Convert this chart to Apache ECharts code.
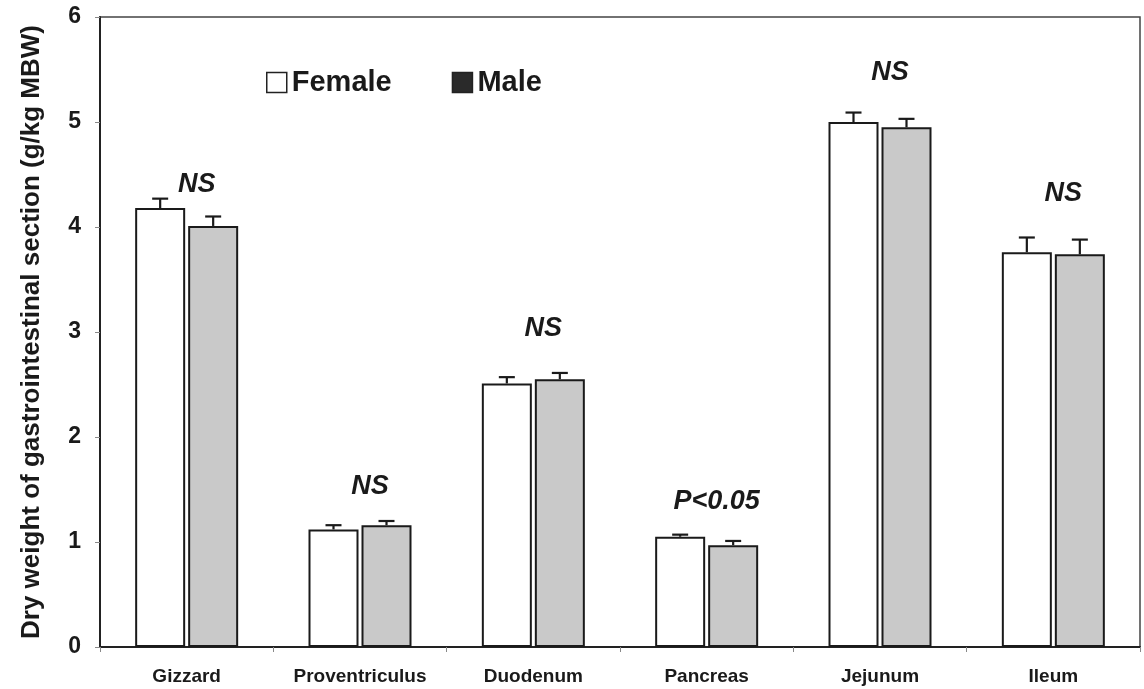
<!DOCTYPE html>
<html>
<head>
<meta charset="utf-8">
<script src="https://cdn.jsdelivr.net/npm/echarts@6/dist/echarts.min.js"></script>
<style>
html,body{margin:0;padding:0;background:#fff;}
#chart{width:1144px;height:689px;}
</style>
</head>
<body>
<div id="chart"></div>
<script>
const categories = ['Gizzard', 'Proventriculus', 'Duodenum', 'Pancreas', 'Jejunum', 'Ileum'];
const femaleValues = [4.18, 1.12, 2.51, 1.05, 5.00, 3.76];
const femaleErrors = [0.09, 0.04, 0.06, 0.02, 0.09, 0.14];
const maleValues = [4.01, 1.16, 2.55, 0.97, 4.95, 3.74];
const maleErrors = [0.09, 0.04, 0.06, 0.04, 0.08, 0.14];
const noteTexts = ['NS', 'NS', 'NS', 'P<0.05', 'NS', 'NS'];
const notePositions = [4.40, 1.53, 3.03, 1.39, 5.47, 4.32];
const yTicks = [0, 1, 2, 3, 4, 5, 6];

const BAR_W = 50;
const GAP = 3;
const FONT = '"Liberation Sans", Arial, sans-serif';

function errorSeries(name, values, errors, sign) {
  return {
    type: 'custom',
    name: name + ' err',
    silent: true,
    z: 5,
    data: values.map((v, i) => [i, v, errors[i]]),
    renderItem: function (params, api) {
      const dx = sign * (BAR_W / 2 + GAP / 2);
      const base = api.coord([api.value(0), api.value(1)]);
      const top = api.coord([api.value(0), api.value(1) + api.value(2)]);
      const x = base[0] + dx;
      const style = { stroke: '#1a1a1a', lineWidth: 2.2 };
      return {
        type: 'group',
        children: [
          { type: 'line', shape: { x1: x, y1: base[1], x2: x, y2: top[1] }, style: style },
          { type: 'line', shape: { x1: x - 8, y1: top[1], x2: x + 8, y2: top[1] }, style: style }
        ]
      };
    }
  };
}

const chart = echarts.init(document.getElementById('chart'));
chart.setOption({
  backgroundColor: '#ffffff',
  animation: false,
  textStyle: { fontFamily: FONT },
  grid: { left: 100, right: 4, top: 17, bottom: 42, show: true, borderColor: '#444', borderWidth: 1.5 },
  legend: {
    left: 261,
    top: 63,
    itemWidth: 20,
    itemHeight: 20,
    itemGap: 60,
    textStyle: { fontSize: 29, fontWeight: 'bold', color: '#1a1a1a', fontFamily: FONT },
    data: [
      { name: 'Female', icon: 'rect', itemStyle: { color: '#ffffff', borderColor: '#222', borderWidth: 1.5 } },
      { name: 'Male', icon: 'rect', itemStyle: { color: '#2a2a2a', borderColor: '#222', borderWidth: 1.5 } }
    ]
  },
  xAxis: {
    type: 'category',
    data: categories,
    boundaryGap: true,
    axisLine: { show: true, lineStyle: { color: '#222', width: 2 } },
    axisTick: { show: true, interval: 0, length: 5, lineStyle: { color: '#888', width: 1 } },
    axisLabel: { interval: 0, color: '#1a1a1a', fontSize: 19, fontWeight: 'bold', margin: 20, fontFamily: FONT },
    splitLine: { show: false }
  },
  yAxis: {
    type: 'value',
    min: yTicks[0],
    max: yTicks[yTicks.length - 1],
    interval: 1,
    name: 'Dry weight of gastrointestinal section (g/kg MBW)',
    nameLocation: 'middle',
    nameGap: 55,
    nameTextStyle: { fontSize: 26, fontWeight: 'bold', color: '#1a1a1a', fontFamily: FONT },
    axisLine: { show: true, lineStyle: { color: '#222', width: 2 } },
    axisTick: { show: true, length: 5, lineStyle: { color: '#888', width: 1 } },
    axisLabel: { color: '#1a1a1a', fontSize: 23, fontWeight: 'bold', margin: 19, fontFamily: FONT },
    splitLine: { show: false }
  },
  series: [
    {
      name: 'Female',
      type: 'bar',
      data: femaleValues,
      barWidth: BAR_W,
      barGap: (GAP / BAR_W * 100) + '%',
      itemStyle: { color: '#ffffff', borderColor: '#1a1a1a', borderWidth: 2 }
    },
    {
      name: 'Male',
      type: 'bar',
      data: maleValues,
      barWidth: BAR_W,
      itemStyle: { color: '#c9c9c9', borderColor: '#1a1a1a', borderWidth: 2 }
    },
    errorSeries('Female', femaleValues, femaleErrors, -1),
    errorSeries('Male', maleValues, maleErrors, 1),
    {
      name: 'notes',
      type: 'scatter',
      symbolSize: 0,
      silent: true,
      itemStyle: { opacity: 1 },
      data: notePositions.map((v, i) => [i, v]),
      label: {
        show: true,
        position: 'inside',
        offset: [10, 0],
        opacity: 1,
        formatter: p => noteTexts[p.dataIndex],
        fontSize: 27,
        fontWeight: 'bold',
        fontStyle: 'italic',
        color: '#1a1a1a',
        fontFamily: FONT
      }
    }
  ]
});
</script>
</body>
</html>
